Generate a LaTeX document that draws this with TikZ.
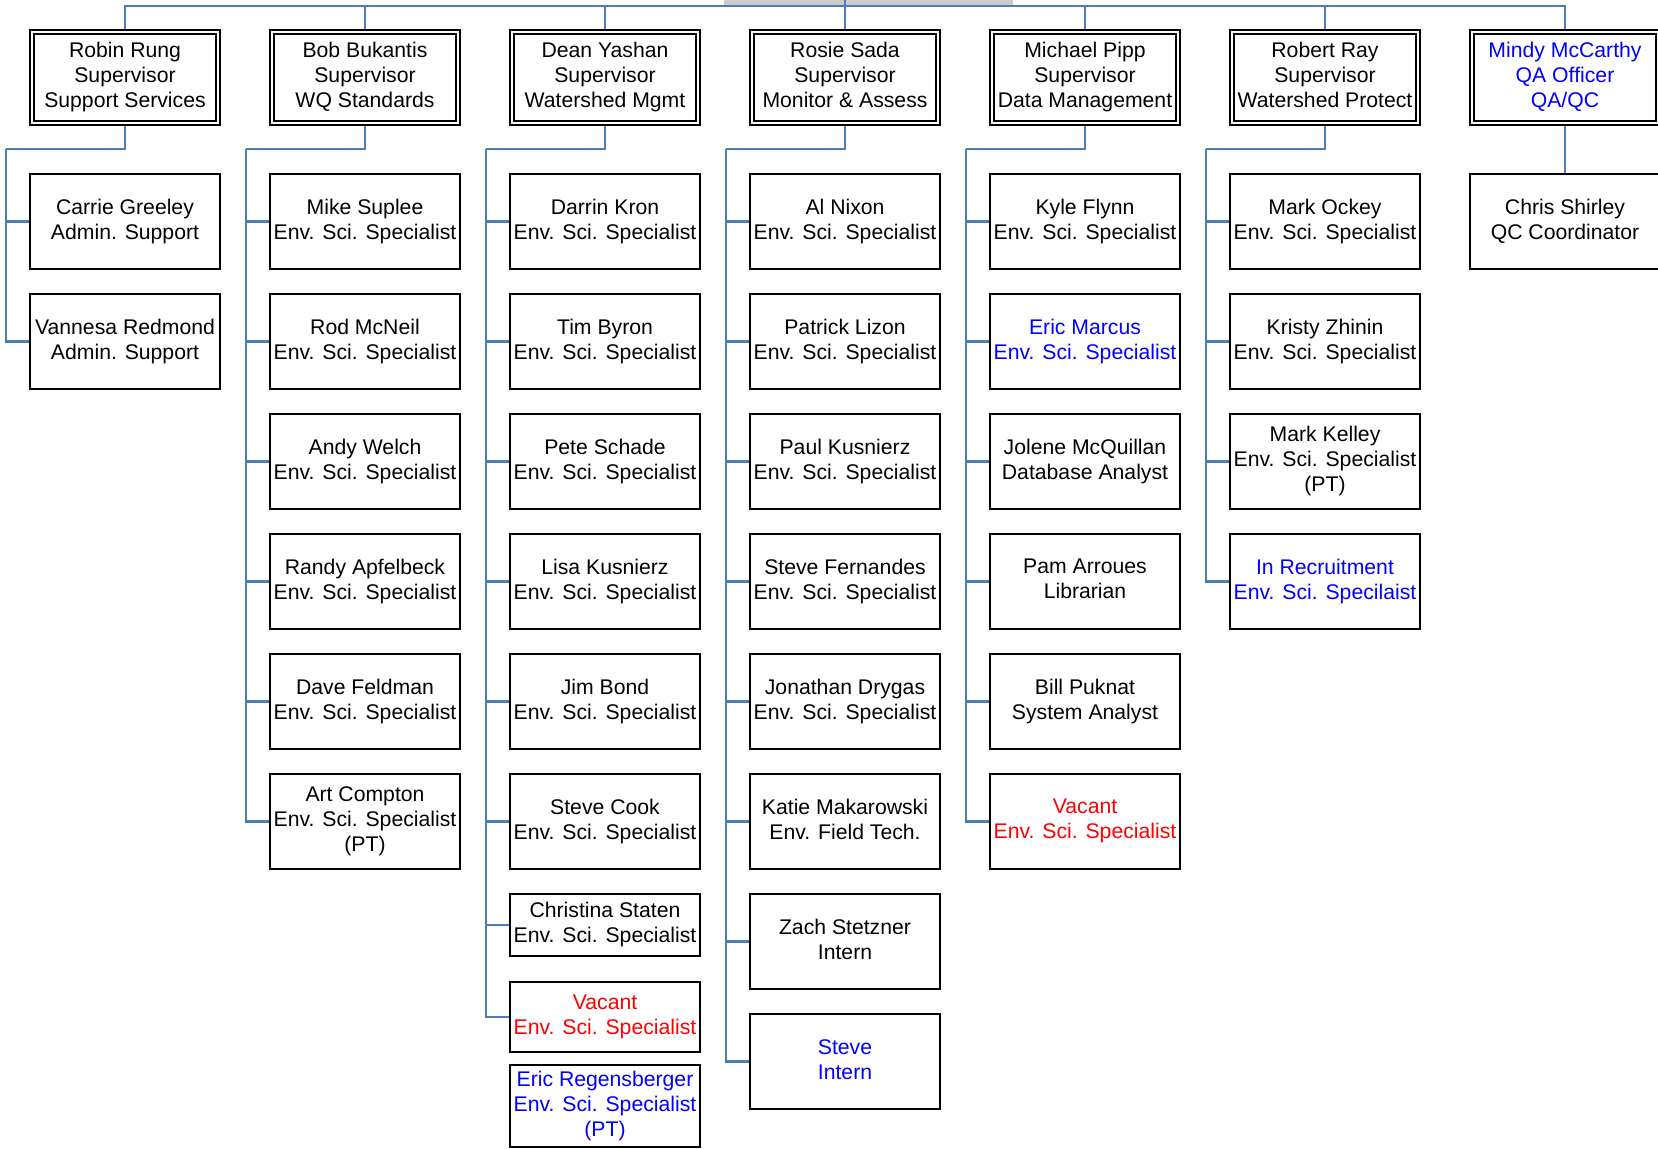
\documentclass[tikz,border=0pt]{standalone}
\usepackage{fontspec}
\setmainfont{Liberation Sans}
\usetikzlibrary{backgrounds}
\definecolor{lineblue}{RGB}{74,126,187}
\definecolor{txtblue}{RGB}{0,0,255}
\definecolor{txtred}{RGB}{255,0,0}
\definecolor{topgray}{RGB}{204,204,204}
\begin{document}
\begin{tikzpicture}[x=0.5pt,y=-0.5pt,
  conn/.style={draw=lineblue, line width=1.1pt},
  emp/.style={draw=black, line width=1pt, fill=white, minimum width=95pt, minimum height=47.5pt,
    inner sep=0pt, align=center, font=\fontsize{10.6}{12.5}\selectfont,
    execute at begin node={\rule{0pt}{12.7pt}}, execute at end node={\rule[-2.3pt]{0pt}{2.3pt}}},
  sup/.style={emp, double=white, double distance=1pt, minimum width=93pt, minimum height=45.5pt},
  blu/.style={text=txtblue},
  rd/.style={text=txtred}
]
\useasboundingbox (0,0) rectangle (1658,1149);

% supervisors
\node[sup] (S1) at (125,77.5) {Robin Rung\\Supervisor\\Support Services};
\node[sup] (S2) at (365,77.5) {Bob Bukantis\\Supervisor\\WQ Standards};
\node[sup] (S3) at (605,77.5) {Dean Yashan\\Supervisor\\Watershed Mgmt};
\node[sup] (S4) at (845,77.5) {Rosie Sada\\Supervisor\\Monitor \& Assess};
\node[sup] (S5) at (1085,77.5) {Michael Pipp\\Supervisor\\Data Management};
\node[sup] (S6) at (1325,77.5) {Robert Ray\\Supervisor\\Watershed Protect};
\node[sup,blu] (S7) at (1565,77.5) {Mindy McCarthy\\QA Officer\\QA/QC};

% column 1
\node[emp] (A1) at (125,221.5) {Carrie Greeley\\Admin. Support};
\node[emp] (A2) at (125,341.5) {Vannesa Redmond\\Admin. Support};

% column 2
\node[emp] (B1) at (365,221.5) {Mike Suplee\\Env. Sci. Specialist};
\node[emp] (B2) at (365,341.5) {Rod McNeil\\Env. Sci. Specialist};
\node[emp] (B3) at (365,461.5) {Andy Welch\\Env. Sci. Specialist};
\node[emp] (B4) at (365,581.5) {Randy Apfelbeck\\Env. Sci. Specialist};
\node[emp] (B5) at (365,701.5) {Dave Feldman\\Env. Sci. Specialist};
\node[emp] (B6) at (365,821.5) {Art Compton\\Env. Sci. Specialist\\(PT)};

% column 3
\node[emp] (C1) at (605,221.5) {Darrin Kron\\Env. Sci. Specialist};
\node[emp] (C2) at (605,341.5) {Tim Byron\\Env. Sci. Specialist};
\node[emp] (C3) at (605,461.5) {Pete Schade\\Env. Sci. Specialist};
\node[emp] (C4) at (605,581.5) {Lisa Kusnierz\\Env. Sci. Specialist};
\node[emp] (C5) at (605,701.5) {Jim Bond\\Env. Sci. Specialist};
\node[emp] (C6) at (605,821.5) {Steve Cook\\Env. Sci. Specialist};
\node[emp, minimum height=31pt] (C7) at (605,925) {Christina Staten\\Env. Sci. Specialist};
\node[emp, rd, minimum height=35pt] (C8) at (605,1017) {Vacant\\Env. Sci. Specialist};
\node[emp, blu, minimum height=41pt] (C9) at (605,1106) {Eric Regensberger\\Env. Sci. Specialist\\(PT)};

% column 4
\node[emp] (D1) at (845,221.5) {Al Nixon\\Env. Sci. Specialist};
\node[emp] (D2) at (845,341.5) {Patrick Lizon\\Env. Sci. Specialist};
\node[emp] (D3) at (845,461.5) {Paul Kusnierz\\Env. Sci. Specialist};
\node[emp] (D4) at (845,581.5) {Steve Fernandes\\Env. Sci. Specialist};
\node[emp] (D5) at (845,701.5) {Jonathan Drygas\\Env. Sci. Specialist};
\node[emp] (D6) at (845,821.5) {Katie Makarowski\\Env. Field Tech.};
\node[emp] (D7) at (845,941.5) {Zach Stetzner\\Intern};
\node[emp, blu] (D8) at (845,1061.5) {Steve\\Intern};

% column 5
\node[emp] (E1) at (1085,221.5) {Kyle Flynn\\Env. Sci. Specialist};
\node[emp, blu] (E2) at (1085,341.5) {Eric Marcus\\Env. Sci. Specialist};
\node[emp] (E3) at (1085,461.5) {Jolene McQuillan\\Database Analyst};
\node[emp] (E4) at (1085,581.5) {Pam Arroues\\Librarian};
\node[emp] (E5) at (1085,701.5) {Bill Puknat\\System Analyst};
\node[emp, rd] (E6) at (1085,821.5) {Vacant\\Env. Sci. Specialist};

% column 6
\node[emp] (F1) at (1325,221.5) {Mark Ockey\\Env. Sci. Specialist};
\node[emp] (F2) at (1325,341.5) {Kristy Zhinin\\Env. Sci. Specialist};
\node[emp] (F3) at (1325,461.5) {Mark Kelley\\Env. Sci. Specialist\\(PT)};
\node[emp, blu] (F4) at (1325,581.5) {In Recruitment\\Env. Sci. Specilaist};

% column 7
\node[emp] (G1) at (1565,221.5) {Chris Shirley\\QC Coordinator};

\begin{scope}[on background layer]
  \fill[topgray] (724,0) rectangle (1013,5);
  \coordinate (tl) at (845,6);
  \coordinate (tg) at (845,0);
  \draw[conn] (S1.north) |- (tl) -| (S7.north);
  \foreach \s in {S2,S3,S5,S6} \draw[conn] (\s.north) -- (\s.north |- tl);
  \draw[conn] (S4.north) -- (tg);

  \coordinate (b1) at (6,149);
  \coordinate (b2) at (246,149);
  \coordinate (b3) at (486,149);
  \coordinate (b4) at (726,149);
  \coordinate (b5) at (966,149);
  \coordinate (b6) at (1206,149);

  \draw[conn] (S1.south) |- (b1);
  \foreach \n in {A1,A2} \draw[conn] (b1) |- (\n.west);
  \draw[conn] (S2.south) |- (b2);
  \foreach \n in {B1,B2,B3,B4,B5,B6} \draw[conn] (b2) |- (\n.west);
  \draw[conn] (S3.south) |- (b3);
  \foreach \n in {C1,C2,C3,C4,C5,C6,C7,C8} \draw[conn] (b3) |- (\n.west);
  \draw[conn] (S4.south) |- (b4);
  \foreach \n in {D1,D2,D3,D4,D5,D6,D7,D8} \draw[conn] (b4) |- (\n.west);
  \draw[conn] (S5.south) |- (b5);
  \foreach \n in {E1,E2,E3,E4,E5,E6} \draw[conn] (b5) |- (\n.west);
  \draw[conn] (S6.south) |- (b6);
  \foreach \n in {F1,F2,F3,F4} \draw[conn] (b6) |- (\n.west);
  \draw[conn] (S7.south) -- (G1.north);
\end{scope}
\end{tikzpicture}
\end{document}
